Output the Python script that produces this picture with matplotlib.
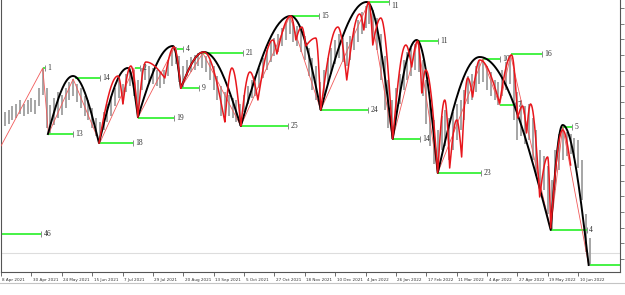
import matplotlib.pyplot as plt
from matplotlib.lines import Line2D
from matplotlib.transforms import ScaledTranslation
import numpy as np

# one date label every 16 daily bars
date_labels = ['8 Apr 2021', '30 Apr 2021', '24 May 2021', '15 Jun 2021', '7 Jul 2021',
               '29 Jul 2021', '20 Aug 2021', '13 Sep 2021', '5 Oct 2021', '27 Oct 2021',
               '18 Nov 2021', '10 Dec 2021', '4 Jan 2022', '26 Jan 2022', '17 Feb 2022',
               '11 Mar 2022', '4 Apr 2022', '27 Apr 2022', '19 May 2022', '10 Jun 2022']

# price bars (every second bar), high and low
bar_high = [157, 160, 162, 166, 168, 172, 168, 172, 174, 172,
            184, 203, 184, 167, 174, 180, 177, 184, 190, 193,
            188, 184, 176, 172, 164, 154, 150, 160, 168, 176,
            184, 192, 188, 198, 204, 202, 192, 204, 208, 206,
            204, 202, 200, 202, 212, 222, 225, 216, 206, 212,
            215, 217, 219, 219, 216, 212, 206, 196, 186, 180,
            177, 174, 172, 168, 177, 186, 192, 196, 204, 214,
            222, 230, 234, 238, 244, 250, 256, 250, 246, 242,
            236, 224, 214, 206, 190, 202, 214, 224, 232, 238,
            234, 230, 236, 244, 252, 260, 266, 270, 262, 254,
            238, 216, 192, 172, 184, 198, 212, 220, 224, 228,
            231, 212, 192, 172, 152, 142, 156, 162, 154, 160,
            168, 172, 182, 196, 198, 206, 212, 213, 206, 200,
            192, 190, 202, 210, 217, 202, 180, 172, 166, 168,
            154, 142, 122, 116, 106, 92, 122, 138, 145, 140,
            138, 134, 132, 112, 58, 34]
bar_low = [144, 146, 148, 152, 154, 158, 156, 158, 160, 158,
           166, 177, 144, 138, 147, 154, 157, 164, 172, 176,
           170, 164, 156, 152, 144, 136, 129, 142, 150, 156,
           166, 174, 168, 180, 186, 176, 155, 182, 192, 190,
           188, 186, 184, 188, 196, 206, 208, 190, 184, 196,
           200, 202, 206, 204, 200, 192, 182, 172, 156, 152,
           156, 154, 150, 146, 160, 168, 174, 176, 184, 194,
           202, 210, 216, 220, 226, 232, 238, 230, 226, 220,
           212, 196, 182, 172, 162, 176, 188, 198, 208, 214,
           210, 206, 212, 222, 230, 238, 244, 248, 232, 222,
           192, 162, 144, 133, 154, 168, 182, 192, 196, 202,
           200, 176, 148, 126, 108, 99, 122, 126, 112, 122,
           132, 142, 152, 168, 172, 180, 188, 190, 182, 176,
           172, 167, 176, 182, 188, 152, 132, 136, 128, 132,
           112, 96, 76, 82, 58, 42, 82, 102, 112, 116,
           118, 114, 104, 72, 20, 7]

# zigzag swing points (bar, price)
zz_x = [0, 22, 25, 38, 52, 70, 72, 91.5, 94.7, 106.3, 126.3, 152.1, 168.4,
        193.7, 206.3, 219.5, 230, 253.7, 262.6, 268.4, 289.5, 295.8, 309.5]
zz_y = [126, 204, 138, 193, 129, 204, 154, 225, 184, 219, 146, 256, 162,
        270, 133, 231, 99, 213, 167, 217, 42, 145, 7]

# main cycle: low, top, low, top ...
main_x = [24.7, 37.9, 51.6, 66.8, 72.1, 90.5, 94.7, 106.8, 126.3, 152.6,
          168.4, 192.6, 206.3, 218.9, 230, 252.1, 289.5, 295.8, 309.5]
main_y = [138, 196, 129, 204, 155, 226, 184, 220, 146, 256,
          162, 270, 133, 232, 99, 215, 42, 147, 7]

# minor cycles
minor1_x = [51.6, 61.6, 64.2, 68.4, 72.1, 76.3, 86.3, 91.1, 94.7]
minor1_y = [129, 196, 168, 206, 155, 210, 194, 225, 184]
minor2_x = [94.7, 106.8, 117.9, 121.6, 126.3, 131.1, 135.3, 143.2, 145.3, 152.6,
            155.3, 158.4, 160.5, 165.8, 168.4, 177.4, 182.1, 188.9, 191.1, 193.7,
            195.8, 200, 206.3, 213.2, 216.3, 219.5, 221.6, 223.7, 230, 233.7,
            236.3, 240, 242.6, 245.8, 248.4, 252.1, 262.6, 268.9, 272.1, 274.7,
            276.8, 278.9, 283.7, 287.9, 289.5, 295.8, 300]
minor2_y = [184, 220, 150, 204, 146, 200, 172, 232, 218, 256,
            232, 245, 226, 234, 162, 245, 192, 258, 242, 270,
            227, 254, 133, 227, 205, 231, 179, 202, 99, 172,
            104, 152, 115, 194, 175, 212, 169, 217, 154, 166,
            139, 168, 75, 115, 44, 142, 107]

# level lines
lvl_text = ['46', '1', '13', '14', '18', '2', '19', '4', '9', '21', '25', '15',
            '24', '11', '14', '11', '23', '10', '7', '16', '5', '4', '']
lvl_start = [0, 22, 24.7, 39, 51.6, 70.5, 72, 92.6, 95.3, 106.3, 126.3, 152.6,
             168.4, 193.7, 206.3, 219.5, 230, 253.7, 262.6, 268.4, 295.8, 289.5, 310]
lvl_end = [21, 23, 37.9, 52, 69.5, 73, 91, 95.8, 104.2, 127.4, 151, 167.4,
           193.2, 204.2, 220.5, 230, 252.6, 262.6, 270.5, 284.7, 300.5, 308.4, 330]
lvl_price = [38, 204, 138, 194, 129, 204, 154, 223, 184, 219, 146, 256,
             162, 270, 133, 231, 99, 213, 167, 218, 145, 42, 7]


def arc_path(xs, ys, n=40):
    # round at the tops, sharp at the lows
    px, py = [], []
    for i in range(len(xs) - 1):
        t = np.linspace(0, 1, n)
        x = xs[i] + (xs[i + 1] - xs[i]) * t
        if ys[i + 1] > ys[i]:
            y = ys[i] + (ys[i + 1] - ys[i]) * np.sin(t * np.pi / 2)
        else:
            y = ys[i + 1] + (ys[i] - ys[i + 1]) * np.cos(t * np.pi / 2)
        px.extend(x)
        py.extend(y)
    return px, py


fig = plt.figure(figsize=(6.25, 2.95), dpi=100)
ax = fig.add_axes([1 / 625, 23 / 295, 619 / 625, 272 / 295])

bar_x = np.arange(len(bar_high)) * 2
ax.vlines(bar_x, bar_low, bar_high, color='#9e9e9e', lw=1.3, zorder=1)

ax.axhline(19, color='#dddddd', lw=0.8, zorder=0)

for s, e, p, t in zip(lvl_start, lvl_end, lvl_price, lvl_text):
    ax.plot([s, e], [p, p], color='#45f245', lw=1.4, solid_capstyle='butt', zorder=2)
    if t:
        ax.plot(e, p, marker='|', ms=4.5, mew=0.7, color='#8a8a8a', zorder=2)
        ax.text(e + 1.4, min(p, 266), t, fontsize=5.5, family='Liberation Serif',
                va='center', ha='left', color='#333333', zorder=2.5)

ax.plot(zz_x, zz_y, color='#f25a5a', lw=0.6, zorder=3)

mx, my = arc_path(main_x, main_y)
ax.plot(mx, my, color='black', lw=1.4, zorder=4)

for xs, ys in [(minor1_x, minor1_y), (minor2_x, minor2_y)]:
    rx, ry = arc_path(xs, ys)
    ax.plot(rx, ry, color='#e8161c', lw=1.1, zorder=5)

ax.set_xlim(0, 326)
ax.set_ylim(0, 272)

ax.set_xticks(np.arange(len(date_labels)) * 16)
ax.set_xticklabels(date_labels, fontsize=3.0, ha='left', color='#333333')
ax.tick_params(axis='x', length=3, width=0.6, color='#555555', pad=1.5)
shift = ScaledTranslation(1.5 / 100, 0, fig.dpi_scale_trans)
for lab in ax.get_xticklabels():
    lab.set_transform(lab.get_transform() + shift)

ax.yaxis.tick_right()
ax.set_yticks(np.arange(217 % 15.7, 272, 15.7))
ax.tick_params(axis='y', length=3, width=0.6, color='#666666', labelright=False)

ax.spines['top'].set_visible(False)
for side in ['left', 'bottom', 'right']:
    ax.spines[side].set_color('#555555')
    ax.spines[side].set_linewidth(0.8)

fig.add_artist(Line2D([0, 1], [12 / 295, 12 / 295], transform=fig.transFigure,
                      color='#c4c4c4', lw=0.8))

plt.savefig('out.png', dpi=100)
